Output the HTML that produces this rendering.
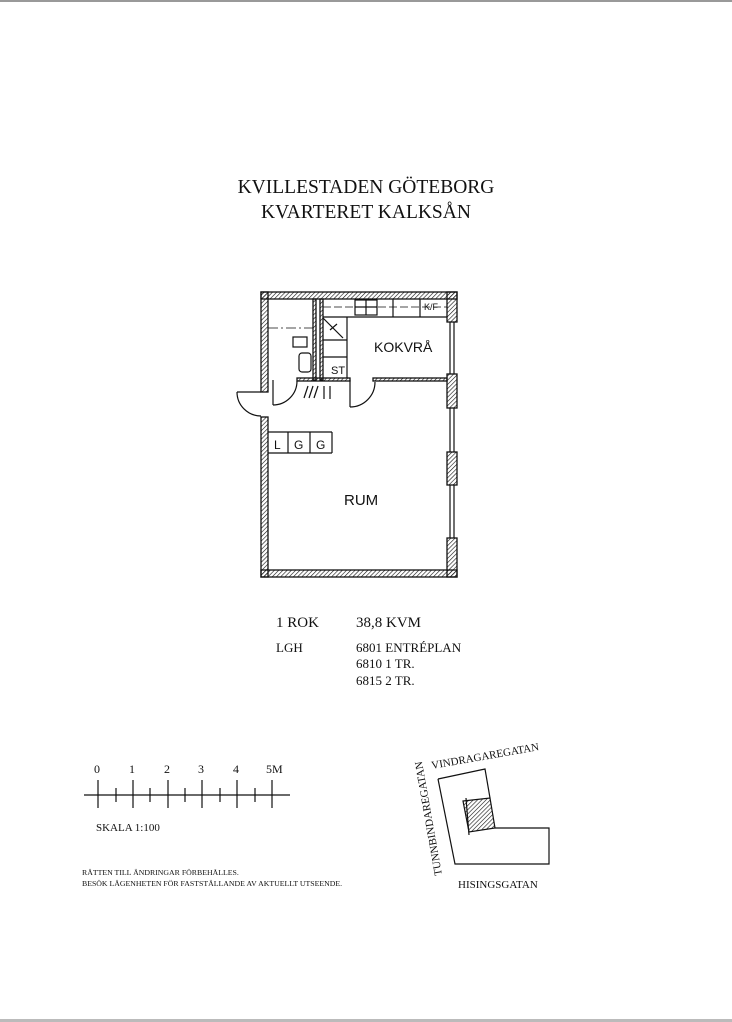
<!DOCTYPE html>
<html><head><style>
html,body{margin:0;padding:0;background:#fff}
svg{display:block}
text{font-family:"Liberation Serif",serif;fill:#111}
.h{font-family:"Liberation Sans",sans-serif}
</style></head><body>
<svg width="732" height="1022" viewBox="0 0 732 1022" xmlns="http://www.w3.org/2000/svg">
<defs>
<pattern id="ht" width="3" height="3" patternUnits="userSpaceOnUse" patternTransform="rotate(45)">
<line x1="0" y1="0" x2="0" y2="3" stroke="#111" stroke-width="1.2"/></pattern>
</defs>
<rect x="0" y="0" width="732" height="2" fill="#999"/>
<rect x="0" y="1019" width="732" height="3" fill="#bbb"/>
<text x="366" y="193" font-size="19.5" text-anchor="middle">KVILLESTADEN GÖTEBORG</text>
<text x="366" y="218" font-size="19.5" text-anchor="middle">KVARTERET KALKSÅN</text>

<g stroke="#111" stroke-width="1.3" fill="url(#ht)">
<rect x="261" y="292" width="196" height="7"/>
<rect x="261" y="570" width="196" height="7"/>
<rect x="261" y="292" width="7" height="100"/>
<rect x="261" y="417" width="7" height="160"/>
<rect x="447" y="292" width="10" height="30"/>
<rect x="447" y="374" width="10" height="34"/>
<rect x="447" y="452" width="10" height="33"/>
<rect x="447" y="538" width="10" height="39"/>
<rect x="313" y="299" width="3" height="81"/>
<rect x="320" y="299" width="3" height="81"/>
<rect x="297" y="378" width="53" height="3"/>
<rect x="373" y="378" width="74" height="3"/>
</g>
<g stroke="#111" stroke-width="1.2" fill="none">
<line x1="450" y1="322" x2="450" y2="374"/><line x1="454" y1="322" x2="454" y2="374"/>
<line x1="450" y1="408" x2="450" y2="452"/><line x1="454" y1="408" x2="454" y2="452"/>
<line x1="450" y1="485" x2="450" y2="538"/><line x1="454" y1="485" x2="454" y2="538"/>
<line x1="237" y1="392" x2="261" y2="392"/>
<path d="M237 392 A24 24 0 0 0 261 416"/>
<line x1="273" y1="380" x2="273" y2="405"/>
<path d="M273 405 A24 24 0 0 0 297 381"/>
<line x1="350" y1="380" x2="350" y2="407"/>
<path d="M350 407 A25 25 0 0 0 375 382"/>
<line x1="304" y1="398" x2="308" y2="386"/><line x1="309" y1="398" x2="313" y2="386"/><line x1="314" y1="398" x2="318" y2="386"/>
<line x1="324" y1="386" x2="324" y2="399"/><line x1="330" y1="386" x2="330" y2="399"/>
<line x1="323" y1="317" x2="447" y2="317"/>
<line x1="347" y1="317" x2="347" y2="378"/>
<line x1="323" y1="307" x2="447" y2="307" stroke-dasharray="8 3" stroke-width="0.8"/>
<rect x="355" y="300" width="22" height="15"/>
<line x1="366" y1="300" x2="366" y2="315"/><line x1="355" y1="307" x2="377" y2="307"/>
<line x1="393" y1="299" x2="393" y2="317"/><line x1="420" y1="299" x2="420" y2="317"/>
<line x1="268" y1="328" x2="313" y2="328" stroke-dasharray="10 3 2 3" stroke-width="0.8"/>
<rect x="293" y="337" width="14" height="10"/>
<rect x="299" y="353" width="12" height="19" rx="3"/>
<line x1="323" y1="318" x2="343" y2="338"/><line x1="330" y1="330" x2="337" y2="324"/>
<line x1="323" y1="340" x2="347" y2="340"/><line x1="323" y1="357" x2="347" y2="357"/>
<line x1="268" y1="432" x2="332" y2="432"/><line x1="268" y1="453" x2="332" y2="453"/>
<line x1="332" y1="432" x2="332" y2="453"/><line x1="288" y1="432" x2="288" y2="453"/><line x1="310" y1="432" x2="310" y2="453"/>
</g>
<text class="h" x="424" y="310" font-size="9">K/F</text>
<text class="h" x="331" y="374" font-size="11">ST</text>
<text class="h" x="374" y="352" font-size="14">KOKVRÅ</text>
<text class="h" x="274" y="449" font-size="12">L</text>
<text class="h" x="294" y="449" font-size="12">G</text>
<text class="h" x="316" y="449" font-size="12">G</text>
<text class="h" x="344" y="505" font-size="15">RUM</text>

<text x="276" y="627" font-size="15">1 ROK</text>
<text x="356" y="627" font-size="15">38,8 KVM</text>
<text x="276" y="652" font-size="13">LGH</text>
<text x="356" y="652" font-size="13">6801  ENTRÉPLAN</text>
<text x="356" y="668" font-size="13">6810  1 TR.</text>
<text x="356" y="685" font-size="13">6815  2 TR.</text>

<g stroke="#111" stroke-width="1.2">
<line x1="84" y1="795" x2="290" y2="795"/>
<line x1="98" y1="780" x2="98" y2="808"/><line x1="133" y1="780" x2="133" y2="808"/>
<line x1="168" y1="780" x2="168" y2="808"/><line x1="202" y1="780" x2="202" y2="808"/>
<line x1="237" y1="780" x2="237" y2="808"/><line x1="272" y1="780" x2="272" y2="808"/>
<line x1="116" y1="788" x2="116" y2="802"/><line x1="150" y1="788" x2="150" y2="802"/>
<line x1="185" y1="788" x2="185" y2="802"/><line x1="220" y1="788" x2="220" y2="802"/>
<line x1="255" y1="788" x2="255" y2="802"/>
</g>
<g font-size="12">
<text x="94" y="773">0</text><text x="129" y="773">1</text><text x="164" y="773">2</text>
<text x="198" y="773">3</text><text x="233" y="773">4</text><text x="266" y="773">5M</text>
</g>
<text x="96" y="831" font-size="11">SKALA 1:100</text>
<text x="82" y="875" font-size="7.8">RÄTTEN TILL ÄNDRINGAR FÖRBEHÅLLES.</text>
<text x="82" y="886" font-size="7.8">BESÖK LÄGENHETEN FÖR FASTSTÄLLANDE AV AKTUELLT UTSEENDE.</text>

<g stroke="#111" stroke-width="1.2" fill="none">
<path d="M438 779 L485 769 L490 798"/>
<path d="M495 828 L549 828 L549 864 L455 864 L438 779"/>
<polygon points="463,801 490,798 495,828 469,832" fill="url(#ht)"/>
<line x1="466" y1="798" x2="469" y2="835"/>
</g>
<text x="432" y="769" font-size="11" transform="rotate(-10 432 769)">VINDRAGAREGATAN</text>
<text x="442" y="875" font-size="11" transform="rotate(-100 442 875)">TUNNBINDAREGATAN</text>
<text x="458" y="888" font-size="11">HISINGSGATAN</text>
</svg>
</body></html>
